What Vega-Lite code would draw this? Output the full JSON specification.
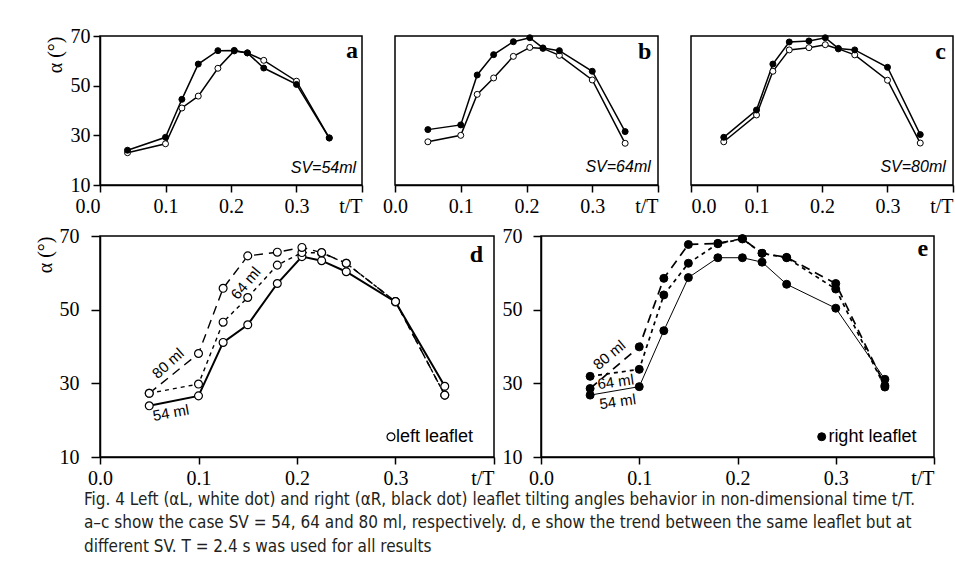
{
  "$schema": "https://vega.github.io/schema/vega-lite/v6.json",
  "padding": {"left": 34, "top": 25, "right": 5, "bottom": 5},
  "datasets": {
    "bysv": [
      {"sv": "54 ml", "leaflet": "left leaflet", "t": 0.042, "alpha": 23.0},
      {"sv": "54 ml", "leaflet": "left leaflet", "t": 0.1, "alpha": 26.6},
      {"sv": "54 ml", "leaflet": "left leaflet", "t": 0.125, "alpha": 41.0},
      {"sv": "54 ml", "leaflet": "left leaflet", "t": 0.15, "alpha": 45.8},
      {"sv": "54 ml", "leaflet": "left leaflet", "t": 0.18, "alpha": 57.0},
      {"sv": "54 ml", "leaflet": "left leaflet", "t": 0.205, "alpha": 64.0},
      {"sv": "54 ml", "leaflet": "left leaflet", "t": 0.225, "alpha": 63.2},
      {"sv": "54 ml", "leaflet": "left leaflet", "t": 0.25, "alpha": 60.2},
      {"sv": "54 ml", "leaflet": "left leaflet", "t": 0.3, "alpha": 51.8},
      {"sv": "54 ml", "leaflet": "left leaflet", "t": 0.35, "alpha": 29.0},
      {"sv": "54 ml", "leaflet": "right leaflet", "t": 0.042, "alpha": 24.0},
      {"sv": "54 ml", "leaflet": "right leaflet", "t": 0.1, "alpha": 29.2},
      {"sv": "54 ml", "leaflet": "right leaflet", "t": 0.125, "alpha": 44.5},
      {"sv": "54 ml", "leaflet": "right leaflet", "t": 0.15, "alpha": 58.7},
      {"sv": "54 ml", "leaflet": "right leaflet", "t": 0.18, "alpha": 64.1},
      {"sv": "54 ml", "leaflet": "right leaflet", "t": 0.205, "alpha": 64.2},
      {"sv": "54 ml", "leaflet": "right leaflet", "t": 0.225, "alpha": 63.2},
      {"sv": "54 ml", "leaflet": "right leaflet", "t": 0.25, "alpha": 57.1},
      {"sv": "54 ml", "leaflet": "right leaflet", "t": 0.3, "alpha": 50.5},
      {"sv": "54 ml", "leaflet": "right leaflet", "t": 0.35, "alpha": 28.9},
      {"sv": "64 ml", "leaflet": "left leaflet", "t": 0.05, "alpha": 27.4},
      {"sv": "64 ml", "leaflet": "left leaflet", "t": 0.1, "alpha": 30.0},
      {"sv": "64 ml", "leaflet": "left leaflet", "t": 0.125, "alpha": 46.5},
      {"sv": "64 ml", "leaflet": "left leaflet", "t": 0.15, "alpha": 53.1},
      {"sv": "64 ml", "leaflet": "left leaflet", "t": 0.18, "alpha": 61.8},
      {"sv": "64 ml", "leaflet": "left leaflet", "t": 0.205, "alpha": 65.4},
      {"sv": "64 ml", "leaflet": "left leaflet", "t": 0.225, "alpha": 65.0},
      {"sv": "64 ml", "leaflet": "left leaflet", "t": 0.25, "alpha": 62.2},
      {"sv": "64 ml", "leaflet": "left leaflet", "t": 0.3, "alpha": 52.3},
      {"sv": "64 ml", "leaflet": "left leaflet", "t": 0.35, "alpha": 26.8},
      {"sv": "64 ml", "leaflet": "right leaflet", "t": 0.05, "alpha": 32.3},
      {"sv": "64 ml", "leaflet": "right leaflet", "t": 0.1, "alpha": 34.2},
      {"sv": "64 ml", "leaflet": "right leaflet", "t": 0.125, "alpha": 54.3},
      {"sv": "64 ml", "leaflet": "right leaflet", "t": 0.15, "alpha": 62.5},
      {"sv": "64 ml", "leaflet": "right leaflet", "t": 0.18, "alpha": 67.7},
      {"sv": "64 ml", "leaflet": "right leaflet", "t": 0.205, "alpha": 69.3},
      {"sv": "64 ml", "leaflet": "right leaflet", "t": 0.225, "alpha": 65.2},
      {"sv": "64 ml", "leaflet": "right leaflet", "t": 0.25, "alpha": 64.1},
      {"sv": "64 ml", "leaflet": "right leaflet", "t": 0.3, "alpha": 55.8},
      {"sv": "64 ml", "leaflet": "right leaflet", "t": 0.35, "alpha": 31.5},
      {"sv": "80 ml", "leaflet": "left leaflet", "t": 0.05, "alpha": 27.4},
      {"sv": "80 ml", "leaflet": "left leaflet", "t": 0.1, "alpha": 38.2},
      {"sv": "80 ml", "leaflet": "left leaflet", "t": 0.125, "alpha": 55.8},
      {"sv": "80 ml", "leaflet": "left leaflet", "t": 0.15, "alpha": 64.4},
      {"sv": "80 ml", "leaflet": "left leaflet", "t": 0.18, "alpha": 65.3},
      {"sv": "80 ml", "leaflet": "left leaflet", "t": 0.205, "alpha": 66.5},
      {"sv": "80 ml", "leaflet": "left leaflet", "t": 0.225, "alpha": 64.8},
      {"sv": "80 ml", "leaflet": "left leaflet", "t": 0.25, "alpha": 62.4},
      {"sv": "80 ml", "leaflet": "left leaflet", "t": 0.3, "alpha": 52.2},
      {"sv": "80 ml", "leaflet": "left leaflet", "t": 0.35, "alpha": 26.9},
      {"sv": "80 ml", "leaflet": "right leaflet", "t": 0.05, "alpha": 29.2},
      {"sv": "80 ml", "leaflet": "right leaflet", "t": 0.1, "alpha": 40.2},
      {"sv": "80 ml", "leaflet": "right leaflet", "t": 0.125, "alpha": 58.7},
      {"sv": "80 ml", "leaflet": "right leaflet", "t": 0.15, "alpha": 67.6},
      {"sv": "80 ml", "leaflet": "right leaflet", "t": 0.18, "alpha": 68.0},
      {"sv": "80 ml", "leaflet": "right leaflet", "t": 0.205, "alpha": 69.3},
      {"sv": "80 ml", "leaflet": "right leaflet", "t": 0.225, "alpha": 65.0},
      {"sv": "80 ml", "leaflet": "right leaflet", "t": 0.25, "alpha": 64.4},
      {"sv": "80 ml", "leaflet": "right leaflet", "t": 0.3, "alpha": 57.4},
      {"sv": "80 ml", "leaflet": "right leaflet", "t": 0.35, "alpha": 30.3}
    ],
    "byleaflet": [
      {"sv": "54 ml", "leaflet": "left leaflet", "t": 0.05, "alpha": 23.9},
      {"sv": "54 ml", "leaflet": "left leaflet", "t": 0.1, "alpha": 26.6},
      {"sv": "54 ml", "leaflet": "left leaflet", "t": 0.125, "alpha": 41.1},
      {"sv": "54 ml", "leaflet": "left leaflet", "t": 0.15, "alpha": 45.9},
      {"sv": "54 ml", "leaflet": "left leaflet", "t": 0.18, "alpha": 57.1},
      {"sv": "54 ml", "leaflet": "left leaflet", "t": 0.205, "alpha": 64.4},
      {"sv": "54 ml", "leaflet": "left leaflet", "t": 0.225, "alpha": 63.3},
      {"sv": "54 ml", "leaflet": "left leaflet", "t": 0.25, "alpha": 60.3},
      {"sv": "54 ml", "leaflet": "left leaflet", "t": 0.3, "alpha": 52.1},
      {"sv": "54 ml", "leaflet": "left leaflet", "t": 0.35, "alpha": 29.2},
      {"sv": "64 ml", "leaflet": "left leaflet", "t": 0.05, "alpha": 27.3},
      {"sv": "64 ml", "leaflet": "left leaflet", "t": 0.1, "alpha": 29.8},
      {"sv": "64 ml", "leaflet": "left leaflet", "t": 0.125, "alpha": 46.6},
      {"sv": "64 ml", "leaflet": "left leaflet", "t": 0.15, "alpha": 53.3},
      {"sv": "64 ml", "leaflet": "left leaflet", "t": 0.18, "alpha": 62.1},
      {"sv": "64 ml", "leaflet": "left leaflet", "t": 0.205, "alpha": 65.5},
      {"sv": "64 ml", "leaflet": "left leaflet", "t": 0.225, "alpha": 65.4},
      {"sv": "64 ml", "leaflet": "left leaflet", "t": 0.25, "alpha": 62.6},
      {"sv": "64 ml", "leaflet": "left leaflet", "t": 0.3, "alpha": 52.2},
      {"sv": "64 ml", "leaflet": "left leaflet", "t": 0.35, "alpha": 26.8},
      {"sv": "80 ml", "leaflet": "left leaflet", "t": 0.05, "alpha": 27.3},
      {"sv": "80 ml", "leaflet": "left leaflet", "t": 0.1, "alpha": 38.1},
      {"sv": "80 ml", "leaflet": "left leaflet", "t": 0.125, "alpha": 55.8},
      {"sv": "80 ml", "leaflet": "left leaflet", "t": 0.15, "alpha": 64.6},
      {"sv": "80 ml", "leaflet": "left leaflet", "t": 0.18, "alpha": 65.6},
      {"sv": "80 ml", "leaflet": "left leaflet", "t": 0.205, "alpha": 66.9},
      {"sv": "80 ml", "leaflet": "left leaflet", "t": 0.225, "alpha": 65.5},
      {"sv": "80 ml", "leaflet": "left leaflet", "t": 0.25, "alpha": 62.6},
      {"sv": "80 ml", "leaflet": "left leaflet", "t": 0.3, "alpha": 52.2},
      {"sv": "80 ml", "leaflet": "left leaflet", "t": 0.35, "alpha": 26.8},
      {"sv": "54 ml", "leaflet": "right leaflet", "t": 0.05, "alpha": 26.8},
      {"sv": "54 ml", "leaflet": "right leaflet", "t": 0.1, "alpha": 29.1},
      {"sv": "54 ml", "leaflet": "right leaflet", "t": 0.125, "alpha": 44.3},
      {"sv": "54 ml", "leaflet": "right leaflet", "t": 0.15, "alpha": 58.7},
      {"sv": "54 ml", "leaflet": "right leaflet", "t": 0.18, "alpha": 64.1},
      {"sv": "54 ml", "leaflet": "right leaflet", "t": 0.205, "alpha": 64.1},
      {"sv": "54 ml", "leaflet": "right leaflet", "t": 0.225, "alpha": 62.9},
      {"sv": "54 ml", "leaflet": "right leaflet", "t": 0.25, "alpha": 56.9},
      {"sv": "54 ml", "leaflet": "right leaflet", "t": 0.3, "alpha": 50.4},
      {"sv": "54 ml", "leaflet": "right leaflet", "t": 0.35, "alpha": 31.1},
      {"sv": "64 ml", "leaflet": "right leaflet", "t": 0.05, "alpha": 31.9},
      {"sv": "64 ml", "leaflet": "right leaflet", "t": 0.1, "alpha": 33.8},
      {"sv": "64 ml", "leaflet": "right leaflet", "t": 0.125, "alpha": 54.0},
      {"sv": "64 ml", "leaflet": "right leaflet", "t": 0.15, "alpha": 62.6},
      {"sv": "64 ml", "leaflet": "right leaflet", "t": 0.18, "alpha": 67.9},
      {"sv": "64 ml", "leaflet": "right leaflet", "t": 0.205, "alpha": 69.2},
      {"sv": "64 ml", "leaflet": "right leaflet", "t": 0.225, "alpha": 65.3},
      {"sv": "64 ml", "leaflet": "right leaflet", "t": 0.25, "alpha": 64.1},
      {"sv": "64 ml", "leaflet": "right leaflet", "t": 0.3, "alpha": 55.6},
      {"sv": "64 ml", "leaflet": "right leaflet", "t": 0.35, "alpha": 29.0},
      {"sv": "80 ml", "leaflet": "right leaflet", "t": 0.05, "alpha": 28.6},
      {"sv": "80 ml", "leaflet": "right leaflet", "t": 0.1, "alpha": 39.9},
      {"sv": "80 ml", "leaflet": "right leaflet", "t": 0.125, "alpha": 58.5},
      {"sv": "80 ml", "leaflet": "right leaflet", "t": 0.15, "alpha": 67.7},
      {"sv": "80 ml", "leaflet": "right leaflet", "t": 0.18, "alpha": 68.0},
      {"sv": "80 ml", "leaflet": "right leaflet", "t": 0.205, "alpha": 69.3},
      {"sv": "80 ml", "leaflet": "right leaflet", "t": 0.225, "alpha": 65.3},
      {"sv": "80 ml", "leaflet": "right leaflet", "t": 0.25, "alpha": 64.2},
      {"sv": "80 ml", "leaflet": "right leaflet", "t": 0.3, "alpha": 57.1},
      {"sv": "80 ml", "leaflet": "right leaflet", "t": 0.35, "alpha": 29.4}
    ]
  },
  "title": {
    "text": [
      "Fig. 4  Left (αL, white dot) and right (αR, black dot) leaflet tilting angles behavior in non-dimensional time t/T.",
      "a–c show the case SV = 54, 64 and 80 ml, respectively. d, e show the trend between the same leaflet but at",
      "different SV. T = 2.4 s was used for all results"
    ],
    "orient": "bottom",
    "anchor": "start",
    "frame": "group",
    "font": "Liberation Sans Narrow, DejaVu Sans Condensed, sans-serif",
    "fontSize": 17,
    "fontWeight": "normal",
    "color": "#231f20",
    "lineHeight": 23.5,
    "offset": 3,
    "dx": -16
  },
  "spacing": 8,
  "vconcat": [
    {
      "hconcat": [
        {
          "width": 262, "height": 149,
          "layer": [
            {
              "data": {"name": "bysv"},
              "transform": [{"filter": "datum.sv === '54 ml'"}],
              "mark": {"type": "line", "color": "black", "strokeWidth": 1.5},
              "encoding": {
                "x": {"field": "t", "type": "quantitative", "scale": {"domain": [0, 0.4], "nice": false},
                  "axis": {"title": null, "values": [0, 0.1, 0.2, 0.3, 0.4], "labelFlush": false, "labelPadding": 4,
                    "labelExpr": "datum.value > 0.39 ? 't/T' : format(datum.value, '.1f')",
                    "labelAlign": {"condition": {"test": "datum.value > 0.39 || datum.value == 0", "value": "right"}, "value": "center"}}},
                "y": {"field": "alpha", "type": "quantitative", "scale": {"domain": [10, 70], "nice": false, "zero": false},
                  "axis": {"title": "α (°)", "values": [10, 30, 50, 70], "titlePadding": 5, "titleAnchor": "end"}},
                "detail": {"field": "leaflet"}
              }
            },
            {
              "data": {"name": "bysv"},
              "transform": [{"filter": "datum.sv === '54 ml'"}],
              "mark": {"type": "point", "filled": true, "stroke": "black", "strokeWidth": 1, "size": 36, "opacity": 1},
              "encoding": {
                "x": {"field": "t", "type": "quantitative"},
                "y": {"field": "alpha", "type": "quantitative"},
                "fill": {"field": "leaflet", "type": "nominal", "scale": {"domain": ["left leaflet", "right leaflet"], "range": ["white", "black"]}, "legend": null}
              }
            },
            {
              "data": {"values": [{}]},
              "mark": {"type": "text", "text": "a", "font": "Liberation Serif", "fontWeight": "bold", "fontSize": 24, "align": "right", "baseline": "middle", "color": "black"},
              "encoding": {"x": {"datum": 0.394}, "y": {"datum": 64}}
            },
            {
              "data": {"values": [{}]},
              "mark": {"type": "text", "text": "SV=54ml", "font": "Liberation Sans", "fontStyle": "italic", "fontSize": 16, "align": "right", "baseline": "middle", "color": "black"},
              "encoding": {"x": {"datum": 0.391}, "y": {"datum": 17}}
            }
          ]
        },
        {
          "width": 263, "height": 149,
          "layer": [
            {
              "data": {"name": "bysv"},
              "transform": [{"filter": "datum.sv === '64 ml'"}],
              "mark": {"type": "line", "color": "black", "strokeWidth": 1.5},
              "encoding": {
                "x": {"field": "t", "type": "quantitative", "scale": {"domain": [0, 0.4], "nice": false},
                  "axis": {"title": null, "values": [0, 0.1, 0.2, 0.3, 0.4], "labelFlush": false, "labelPadding": 4,
                    "labelExpr": "datum.value > 0.39 ? 't/T' : format(datum.value, '.1f')",
                    "labelAlign": {"condition": {"test": "datum.value > 0.39", "value": "right"}, "value": "center"}}},
                "y": {"field": "alpha", "type": "quantitative", "scale": {"domain": [10, 70], "nice": false, "zero": false}, "axis": null},
                "detail": {"field": "leaflet"}
              }
            },
            {
              "data": {"name": "bysv"},
              "transform": [{"filter": "datum.sv === '64 ml'"}],
              "mark": {"type": "point", "filled": true, "stroke": "black", "strokeWidth": 1, "size": 36, "opacity": 1},
              "encoding": {
                "x": {"field": "t", "type": "quantitative"},
                "y": {"field": "alpha", "type": "quantitative"},
                "fill": {"field": "leaflet", "type": "nominal", "scale": {"domain": ["left leaflet", "right leaflet"], "range": ["white", "black"]}, "legend": null}
              }
            },
            {
              "data": {"values": [{}]},
              "mark": {"type": "text", "text": "b", "font": "Liberation Serif", "fontWeight": "bold", "fontSize": 24, "align": "right", "baseline": "middle", "color": "black"},
              "encoding": {"x": {"datum": 0.39}, "y": {"datum": 63.5}}
            },
            {
              "data": {"values": [{}]},
              "mark": {"type": "text", "text": "SV=64ml", "font": "Liberation Sans", "fontStyle": "italic", "fontSize": 16, "align": "right", "baseline": "middle", "color": "black"},
              "encoding": {"x": {"datum": 0.389}, "y": {"datum": 17.3}}
            }
          ]
        },
        {
          "width": 262, "height": 149,
          "layer": [
            {
              "data": {"name": "bysv"},
              "transform": [{"filter": "datum.sv === '80 ml'"}],
              "mark": {"type": "line", "color": "black", "strokeWidth": 1.5},
              "encoding": {
                "x": {"field": "t", "type": "quantitative", "scale": {"domain": [0, 0.4], "nice": false},
                  "axis": {"title": null, "values": [0, 0.1, 0.2, 0.3, 0.4], "labelFlush": true, "labelPadding": 4,
                    "labelExpr": "datum.value > 0.39 ? 't/T' : format(datum.value, '.1f')"}},
                "y": {"field": "alpha", "type": "quantitative", "scale": {"domain": [10, 70], "nice": false, "zero": false}, "axis": null},
                "detail": {"field": "leaflet"}
              }
            },
            {
              "data": {"name": "bysv"},
              "transform": [{"filter": "datum.sv === '80 ml'"}],
              "mark": {"type": "point", "filled": true, "stroke": "black", "strokeWidth": 1, "size": 36, "opacity": 1},
              "encoding": {
                "x": {"field": "t", "type": "quantitative"},
                "y": {"field": "alpha", "type": "quantitative"},
                "fill": {"field": "leaflet", "type": "nominal", "scale": {"domain": ["left leaflet", "right leaflet"], "range": ["white", "black"]}, "legend": null}
              }
            },
            {
              "data": {"values": [{}]},
              "mark": {"type": "text", "text": "c", "font": "Liberation Serif", "fontWeight": "bold", "fontSize": 24, "align": "right", "baseline": "middle", "color": "black"},
              "encoding": {"x": {"datum": 0.389}, "y": {"datum": 63.5}}
            },
            {
              "data": {"values": [{}]},
              "mark": {"type": "text", "text": "SV=80ml", "font": "Liberation Sans", "fontStyle": "italic", "fontSize": 16, "align": "right", "baseline": "middle", "color": "black"},
              "encoding": {"x": {"datum": 0.389}, "y": {"datum": 17.3}}
            }
          ]
        }
      ],
      "spacing": 33,
      "bounds": "flush"
    },
    {
      "hconcat": [
        {
          "width": 394, "height": 221,
          "layer": [
            {
              "data": {"name": "byleaflet"},
              "transform": [{"filter": "datum.leaflet === 'left leaflet' && datum.sv === '54 ml'"}],
              "mark": {"type": "line", "color": "black", "strokeWidth": 2},
              "encoding": {
                "x": {"field": "t", "type": "quantitative", "scale": {"domain": [0, 0.4], "nice": false},
                  "axis": {"title": null, "values": [0, 0.1, 0.2, 0.3, 0.4], "labelFlush": false, "labelPadding": 4,
                    "labelExpr": "datum.value > 0.39 ? 't/T' : format(datum.value, '.1f')",
                    "labelAlign": {"condition": {"test": "datum.value > 0.39", "value": "right"}, "value": "center"}}},
                "y": {"field": "alpha", "type": "quantitative", "scale": {"domain": [10, 70], "nice": false, "zero": false},
                  "axis": {"title": "α (°)", "values": [10, 30, 50, 70], "tickSize": 9, "labelPadding": 12, "titlePadding": 4, "titleAnchor": "end"}}
              }
            },
            {
              "data": {"name": "byleaflet"},
              "transform": [{"filter": "datum.leaflet === 'left leaflet' && datum.sv !== '54 ml'"}],
              "mark": {"type": "line", "color": "black", "strokeWidth": 1.4},
              "encoding": {
                "x": {"field": "t", "type": "quantitative"},
                "y": {"field": "alpha", "type": "quantitative"},
                "detail": {"field": "sv"},
                "strokeDash": {"field": "sv", "type": "nominal", "scale": {"domain": ["64 ml", "80 ml"], "range": [[4, 4], [9, 6]]}, "legend": null}
              }
            },
            {
              "data": {"name": "byleaflet"},
              "transform": [{"filter": "datum.leaflet === 'left leaflet'"}],
              "mark": {"type": "point", "filled": true, "fill": "white", "stroke": "black", "strokeWidth": 1.2, "size": 62, "opacity": 1},
              "encoding": {
                "x": {"field": "t", "type": "quantitative"},
                "y": {"field": "alpha", "type": "quantitative"}
              }
            },
            {
              "data": {"values": [{}]},
              "mark": {"type": "point", "filled": true, "fill": "white", "stroke": "black", "strokeWidth": 1.2, "size": 62, "opacity": 1},
              "encoding": {"x": {"datum": 0.2954}, "y": {"datum": 15.5}}
            },
            {
              "data": {"values": [{}]},
              "mark": {"type": "text", "text": "left leaflet", "font": "Liberation Sans", "fontSize": 18, "align": "left", "baseline": "middle", "color": "black"},
              "encoding": {"x": {"datum": 0.3005}, "y": {"datum": 15.5}}
            },
            {
              "data": {"values": [{}]},
              "mark": {"type": "text", "text": "d", "font": "Liberation Serif", "fontWeight": "bold", "fontSize": 24, "align": "right", "baseline": "middle", "color": "black"},
              "encoding": {"x": {"datum": 0.389}, "y": {"datum": 64.8}}
            },
            {
              "data": {"values": [{}]},
              "mark": {"type": "text", "text": "80 ml", "font": "Liberation Sans", "fontSize": 15, "angle": 318, "align": "center", "baseline": "middle", "color": "black"},
              "encoding": {"x": {"datum": 0.069}, "y": {"datum": 35.4}}
            },
            {
              "data": {"values": [{}]},
              "mark": {"type": "text", "text": "64 ml", "font": "Liberation Sans", "fontSize": 15, "angle": 310, "align": "center", "baseline": "middle", "color": "black"},
              "encoding": {"x": {"datum": 0.148}, "y": {"datum": 57.2}}
            },
            {
              "data": {"values": [{}]},
              "mark": {"type": "text", "text": "54 ml", "font": "Liberation Sans", "fontSize": 15, "angle": 350, "align": "center", "baseline": "middle", "color": "black"},
              "encoding": {"x": {"datum": 0.072}, "y": {"datum": 22.0}}
            }
          ]
        },
        {
          "width": 393, "height": 221,
          "layer": [
            {
              "data": {"name": "byleaflet"},
              "transform": [{"filter": "datum.leaflet === 'right leaflet' && datum.sv === '54 ml'"}],
              "mark": {"type": "line", "color": "black", "strokeWidth": 1},
              "encoding": {
                "x": {"field": "t", "type": "quantitative", "scale": {"domain": [0, 0.4], "nice": false},
                  "axis": {"title": null, "values": [0, 0.1, 0.2, 0.3, 0.4], "labelFlush": false, "labelPadding": 4,
                    "labelExpr": "datum.value > 0.39 ? 't/T' : format(datum.value, '.1f')",
                    "labelAlign": {"condition": {"test": "datum.value > 0.39", "value": "right"}, "value": "center"}}},
                "y": {"field": "alpha", "type": "quantitative", "scale": {"domain": [10, 70], "nice": false, "zero": false},
                  "axis": {"title": null, "values": [10, 30, 50, 70], "tickSize": 8, "labelPadding": 11}}
              }
            },
            {
              "data": {"name": "byleaflet"},
              "transform": [{"filter": "datum.leaflet === 'right leaflet' && datum.sv !== '54 ml'"}],
              "mark": {"type": "line", "color": "black", "strokeWidth": 1.7},
              "encoding": {
                "x": {"field": "t", "type": "quantitative"},
                "y": {"field": "alpha", "type": "quantitative"},
                "detail": {"field": "sv"},
                "strokeDash": {"field": "sv", "type": "nominal", "scale": {"domain": ["64 ml", "80 ml"], "range": [[5, 4], [7, 5]]}, "legend": null}
              }
            },
            {
              "data": {"name": "byleaflet"},
              "transform": [{"filter": "datum.leaflet === 'right leaflet'"}],
              "mark": {"type": "point", "filled": true, "fill": "black", "stroke": "black", "strokeWidth": 1, "size": 64, "opacity": 1},
              "encoding": {
                "x": {"field": "t", "type": "quantitative"},
                "y": {"field": "alpha", "type": "quantitative"}
              }
            },
            {
              "data": {"values": [{}]},
              "mark": {"type": "point", "filled": true, "fill": "black", "stroke": "black", "strokeWidth": 1, "size": 64, "opacity": 1},
              "encoding": {"x": {"datum": 0.2857}, "y": {"datum": 15.5}}
            },
            {
              "data": {"values": [{}]},
              "mark": {"type": "text", "text": "right leaflet", "font": "Liberation Sans", "fontSize": 18, "align": "left", "baseline": "middle", "color": "black"},
              "encoding": {"x": {"datum": 0.2925}, "y": {"datum": 15.5}}
            },
            {
              "data": {"values": [{}]},
              "mark": {"type": "text", "text": "e", "font": "Liberation Serif", "fontWeight": "bold", "fontSize": 24, "align": "right", "baseline": "middle", "color": "black"},
              "encoding": {"x": {"datum": 0.394}, "y": {"datum": 66.5}}
            },
            {
              "data": {"values": [{}]},
              "mark": {"type": "text", "text": "80 ml", "font": "Liberation Sans", "fontSize": 15, "angle": 320, "align": "center", "baseline": "middle", "color": "black"},
              "encoding": {"x": {"datum": 0.0695}, "y": {"datum": 37.7}}
            },
            {
              "data": {"values": [{}]},
              "mark": {"type": "text", "text": "64 ml", "font": "Liberation Sans", "fontSize": 15, "angle": 352, "align": "center", "baseline": "middle", "color": "black"},
              "encoding": {"x": {"datum": 0.076}, "y": {"datum": 30.4}}
            },
            {
              "data": {"values": [{}]},
              "mark": {"type": "text", "text": "54 ml", "font": "Liberation Sans", "fontSize": 15, "angle": 352, "align": "center", "baseline": "middle", "color": "black"},
              "encoding": {"x": {"datum": 0.078}, "y": {"datum": 25.0}}
            }
          ]
        }
      ],
      "spacing": 47,
      "bounds": "flush"
    }
  ],
  "config": {
    "view": {"stroke": "black", "strokeWidth": 1.5},
    "axis": {
      "grid": false,
      "domainColor": "black", "domainWidth": 1.5,
      "tickColor": "black", "tickWidth": 1.5, "tickSize": 7,
      "labelColor": "black", "labelFont": "Liberation Serif", "labelFontSize": 20, "labelPadding": 3,
      "titleColor": "black", "titleFont": "Liberation Serif", "titleFontSize": 20, "titleFontWeight": "normal"
    }
  }
}
